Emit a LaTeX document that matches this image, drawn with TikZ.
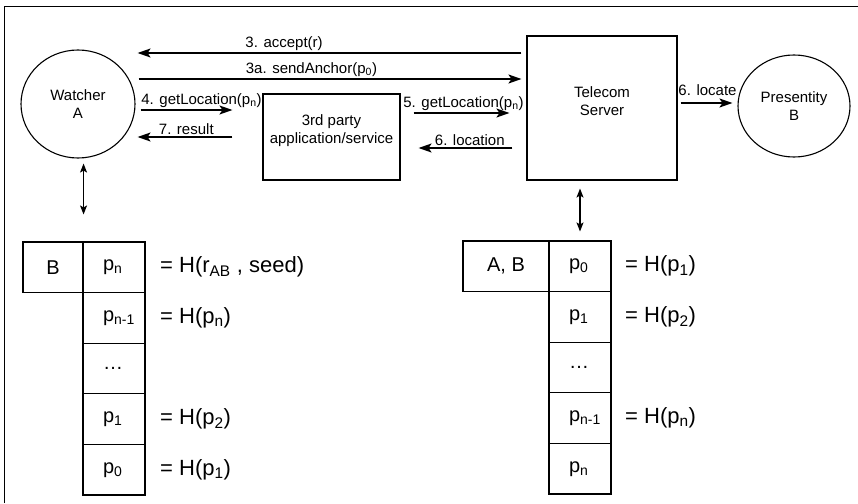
\documentclass[tikz,border=0pt]{standalone}
\usepackage{fontspec}
\setmainfont{Liberation Sans}
\usetikzlibrary{shapes.geometric,arrows.meta}

\tikzset{
  actor/.style={ellipse, draw, line width=1.1pt, align=center, font=\fontsize{15}{18}\selectfont},
  box/.style={draw, line width=1.1pt},
  lbl/.style={font=\fontsize{15}{18}\selectfont, inner sep=2pt},
  msg/.style={line width=1.6pt, -{Stealth[length=13pt, width=9pt, inset=3pt]}},
  link/.style={line width=1.2pt, {Stealth[length=9pt, width=7pt, inset=2pt]}-{Stealth[length=9pt, width=7pt, inset=2pt]}},
  keycell/.style={draw, line width=1.1pt, minimum height=50.6pt, inner sep=0pt, font=\fontsize{20}{24}\selectfont},
  cell/.style={keycell, text width=22pt, inner xsep=20pt, align=left},
  eq/.style={anchor=west, inner xsep=0pt, font=\fontsize{22}{26}\selectfont}
}

\begin{document}
\begin{tikzpicture}[x=1pt, y=-1pt]
\useasboundingbox (0,0) rectangle (858,503);
\draw[line width=1pt] (4,503) -- (4,7) -- (858,7);

% Actors and servers
\node[actor, minimum width=114pt, minimum height=108pt] (watcher) at (78,104) {Watcher\\A};
\node[actor, minimum width=112pt, minimum height=102pt] (presentity) at (794,106) {Presentity\\B};
\node[box, minimum width=137pt, minimum height=86pt,
  label={[lbl, align=center, yshift=6pt]center:3rd party\\application/service}] (app) at (331.5,137) {};
\node[box, minimum width=150pt, minimum height=144pt,
  label={[lbl, align=center, yshift=7pt]center:Telecom\\Server}] (server) at (602,108) {};

% Messages
\draw[msg, shorten <=5pt, shorten >=2pt] (server.west |- 0,53) -- (watcher.east |- 0,53)
  node[lbl, pos=0.62, above] {3. accept(r)};
\draw[msg, shorten <=3pt, shorten >=5pt] (watcher.east |- 0,79) -- (server.west |- 0,79)
  node[lbl, pos=0.45, above] {3a. sendAnchor(p\textsubscript{0})};
\draw[msg, shorten <=5pt, shorten >=30pt] (watcher.east |- 0,110) -- (app.west |- 0,110)
  node[lbl, pos=0, anchor=south west, inner xsep=0pt, xshift=5pt] {4. getLocation(p\textsubscript{n})};
\draw[msg, shorten <=30pt, shorten >=2pt] (app.west |- 0,137) -- (watcher.east |- 0,137)
  node[lbl, pos=0.6, above] {7. result};
\draw[msg, shorten <=13pt, shorten >=17pt] (app.east |- 0,113) -- (server.west |- 0,113)
  node[lbl, midway, above] {5. getLocation(p\textsubscript{n})};
\draw[msg, shorten <=14pt, shorten >=18pt] (server.west |- 0,148) -- (app.east |- 0,148)
  node[lbl, pos=0.45, above] {6. location};
\draw[msg, shorten <=3pt, shorten >=5pt] (server.east |- 0,103) -- (presentity.west |- 0,103)
  node[lbl, midway, above, yshift=5pt] {6. locate};

% Hash chain of the watcher
\node[keycell, minimum width=60pt] (lk) at (53,267.3) {B};
\foreach \i/\p in {0/p\textsubscript{n}, 1/p\textsubscript{n-1}, 2/\dots, 3/p\textsubscript{1}, 4/p\textsubscript{0}} {
  \node[cell] (l\i) at (114,267.3+50.6*\i) {\p};
}
\foreach \i/\h in {0/{= H(r\textsubscript{AB} , seed)}, 1/{= H(p\textsubscript{n})}, 3/{= H(p\textsubscript{2})}, 4/{= H(p\textsubscript{1})}} {
  \node[eq] (le\i) at (160,267.3+50.6*\i) {\h};
}

% Hash chain of the server
\node[keycell, minimum width=86pt] (rk) at (506,266.3) {A, B};
\foreach \i/\p in {0/p\textsubscript{0}, 1/p\textsubscript{1}, 2/\dots, 3/p\textsubscript{n-1}, 4/p\textsubscript{n}} {
  \node[cell] (r\i) at (580,266.3+50.6*\i) {\p};
}
\foreach \i/\h in {0/{= H(p\textsubscript{1})}, 1/{= H(p\textsubscript{2})}, 3/{= H(p\textsubscript{n})}} {
  \node[eq] (re\i) at (625,266.3+50.6*\i) {\h};
}

% Storage links
\draw[link, shorten <=5pt, shorten >=27pt] (watcher.south -| lk.east) -- (lk.north east);
\draw[link, shorten <=8pt, shorten >=9pt] (server.south -| r0.north) -- (r0.north);
\end{tikzpicture}
\end{document}
